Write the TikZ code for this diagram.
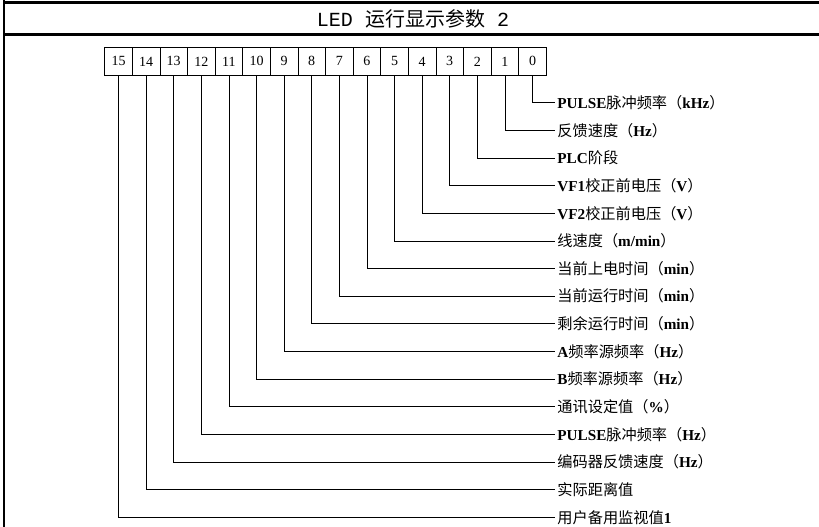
\documentclass[tikz,border=0pt]{standalone}
\usepackage{fontspec}
\setmainfont{Liberation Serif}
\newfontfamily\cjk{Noto Sans CJK SC}
\newfontfamily\titlemono{Liberation Mono}
\newcommand\zh[1]{{\cjk #1}}
\newcommand\la[1]{{\bfseries #1}}

\begin{document}
\begin{tikzpicture}[x=1pt,y=-1pt,line width=0.8pt,
  bitcell/.style={draw,minimum width=27.6pt,minimum height=27.4pt,inner sep=0pt,font=\fontsize{14}{14}\selectfont},
  bitlabel/.style={anchor=west,inner sep=2pt,font=\fontsize{15.2}{15.2}\selectfont},
  frame/.style={line width=2.5pt}]
\useasboundingbox (0,0) rectangle (819,527);
\draw[frame] (4,0) -- (4,527);
\draw[frame] (4,2.7) -- (819,2.7);
\draw[frame] (4,34.3) -- (819,34.3);
\node[font=\fontsize{20}{20}\selectfont] (title) at (413,19) {\titlemono LED \zh{运行显示参数} 2};
\foreach \i in {0,...,15} {
  \node[bitcell] (b\i) at ({104.7+(15-\i)*27.6+13.8},61.4) {\i};
}
\foreach \i/\txt in {
  0/{\la{PULSE}\zh{脉冲频率（}\la{kHz}\zh{）}},
  1/{\zh{反馈速度（}\la{Hz}\zh{）}},
  2/{\la{PLC}\zh{阶段}},
  3/{\la{VF1}\zh{校正前电压（}\la{V}\zh{）}},
  4/{\la{VF2}\zh{校正前电压（}\la{V}\zh{）}},
  5/{\zh{线速度（}\la{m/min}\zh{）}},
  6/{\zh{当前上电时间（}\la{min}\zh{）}},
  7/{\zh{当前运行时间（}\la{min}\zh{）}},
  8/{\zh{剩余运行时间（}\la{min}\zh{）}},
  9/{\la{A}\zh{频率源频率（}\la{Hz}\zh{）}},
  10/{\la{B}\zh{频率源频率（}\la{Hz}\zh{）}},
  11/{\zh{通讯设定值（}\la{\%}\zh{）}},
  12/{\la{PULSE}\zh{脉冲频率（}\la{Hz}\zh{）}},
  13/{\zh{编码器反馈速度（}\la{Hz}\zh{）}},
  14/{\zh{实际距离值}},
  15/{\zh{用户备用监视值}\la{1}}} {
  \node[bitlabel] (l\i) at (555,{102.7+\i*27.64}) {\txt};
  \draw (b\i.south) |- (l\i.west);
}
\end{tikzpicture}
\end{document}
